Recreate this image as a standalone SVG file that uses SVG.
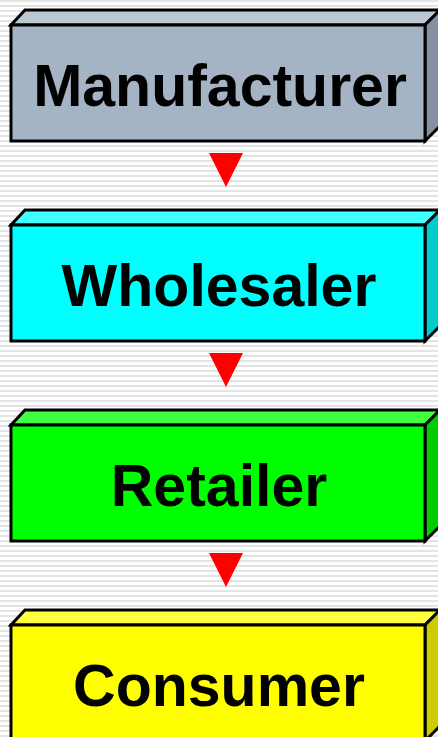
<svg xmlns="http://www.w3.org/2000/svg" width="438" height="737" viewBox="0 0 438 737">
  <defs>
    <pattern id="stripes" x="0" y="0" width="8" height="5" patternUnits="userSpaceOnUse">
      <rect width="8" height="5" fill="#ffffff"/>
      <rect y="0" width="8" height="2" fill="#e4e4e4"/>
    </pattern>
  </defs>
  <style>
    .box polygon, .box rect { stroke: #000; stroke-width: 3; stroke-linejoin: miter; }
    .label { font-family: "Liberation Sans", Arial, sans-serif; font-weight: bold; font-size: 59px; fill: #000; text-anchor: middle; stroke: none; }
    #manufacturer .front { fill: #A5B4C5; }
    #manufacturer .top { fill: #BCC7D4; }
    #manufacturer .side { fill: #8491A0; }
    #wholesaler .front { fill: #00FFFF; }
    #wholesaler .top { fill: #40FFFF; }
    #wholesaler .side { fill: #00CCCC; }
    #retailer .front { fill: #00FF00; }
    #retailer .top { fill: #40FF40; }
    #retailer .side { fill: #00CC00; }
    #consumer .front { fill: #FFFF00; }
    #consumer .top { fill: #FFFF40; }
    #consumer .side { fill: #CCCC00; }
    .arrow { fill: #FF0000; }
  </style>

  <rect width="438" height="737" fill="url(#stripes)"/>

  <!-- each box: top bevel, right side, front face, label -->
  <g id="manufacturer" class="box">
    <polygon class="top" points="11,25 25,10 440,10 425,25"/>
    <polygon class="side" points="425,25 440,10 440,126 425,141"/>
    <rect class="front" x="11" y="25" width="414" height="116"/>
    <text class="label" x="220" y="106">Manufacturer</text>
  </g>
  <g id="wholesaler" class="box" transform="translate(0,200)">
    <polygon class="top" points="11,25 25,10 440,10 425,25"/>
    <polygon class="side" points="425,25 440,10 440,126 425,141"/>
    <rect class="front" x="11" y="25" width="414" height="116"/>
    <text class="label" x="219" y="106">Wholesaler</text>
  </g>
  <g id="retailer" class="box" transform="translate(0,400)">
    <polygon class="top" points="11,25 25,10 440,10 425,25"/>
    <polygon class="side" points="425,25 440,10 440,126 425,141"/>
    <rect class="front" x="11" y="25" width="414" height="116"/>
    <text class="label" x="219" y="106">Retailer</text>
  </g>
  <g id="consumer" class="box" transform="translate(0,600)">
    <polygon class="top" points="11,25 25,10 440,10 425,25"/>
    <polygon class="side" points="425,25 440,10 440,126 425,141"/>
    <rect class="front" x="11" y="25" width="414" height="116"/>
    <text class="label" x="219" y="106">Consumer</text>
  </g>

  <g id="connectors">
    <polygon class="arrow" points="209,153 243,153 226,187"/>
    <polygon class="arrow" points="209,353 243,353 226,387"/>
    <polygon class="arrow" points="209,553 243,553 226,587"/>
  </g>
</svg>
